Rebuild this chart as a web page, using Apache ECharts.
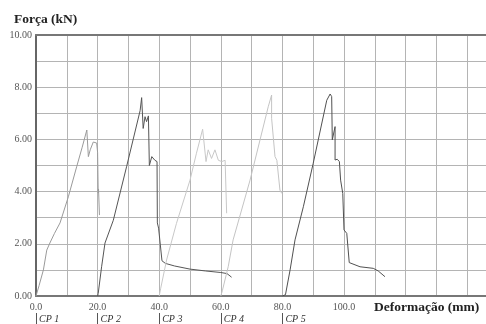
<!DOCTYPE html>
<html>
<head>
<meta charset="utf-8">
<script src="https://cdn.jsdelivr.net/npm/echarts@6/dist/echarts.min.js"></script>
<style>html,body{margin:0;padding:0;background:#fff;}#c{width:486px;height:324px;}</style>
</head>
<body>
<div id="c"></div>
<script>
var cp1X = [0, 1.0, 2.4, 3.5, 4.5, 6.0, 7.8, 10.5, 13.2, 15.0, 16.5, 17.0, 17.6, 18.6, 19.7, 20.0, 20.2, 20.3, 20.6];
var cp1Y = [0, 0.4, 1.0, 1.76, 2.03, 2.4, 2.8, 3.8, 4.95, 5.7, 6.36, 5.34, 5.6, 5.9, 5.86, 5.5, 3.95, 4.1, 3.1];
var cp2X = [20, 20.2, 21.3, 22.4, 25.1, 29.4, 33.8, 34.3, 34.8, 35.4, 35.9, 36.5, 36.8, 37.6, 38.6, 39.3, 39.4, 39.8, 40.9, 42, 45, 50, 55, 60, 62, 63.5];
var cp2Y = [0, 0.1, 1.12, 2.03, 2.9, 4.95, 7.1, 7.6, 6.42, 6.87, 6.68, 6.9, 5.0, 5.34, 5.2, 5.15, 2.8, 2.6, 1.35, 1.25, 1.15, 1.03, 0.96, 0.9, 0.86, 0.72];
var cp3X = [40, 40.5, 42.4, 45.6, 50, 52.1, 54.1, 55.2, 55.9, 57, 58.1, 59.2, 60.3, 61.4, 61.9];
var cp3Y = [0, 0.3, 1.38, 2.78, 4.44, 5.47, 6.39, 5.15, 5.6, 5.27, 5.6, 5.2, 5.15, 5.2, 3.17];
var cp4X = [60, 60.5, 62.4, 64, 69.5, 75.4, 76.5, 76.5, 77.0, 77.6, 78.2, 79.2, 79.8];
var cp4Y = [0, 0.2, 1.12, 2.15, 4.44, 7.25, 7.7, 6.81, 6.81, 5.34, 5.2, 4.06, 3.93];
var cp5X = [80, 81, 82.5, 84.1, 86.8, 90, 94.4, 95.5, 96, 96.2, 97.1, 97.1, 97.8, 98.5, 98.9, 99.6, 100, 100.9, 101.7, 105.2, 109.5, 111.1, 113.3];
var cp5Y = [0, 0.05, 1.0, 2.15, 3.42, 5.08, 7.5, 7.74, 7.64, 5.98, 6.49, 5.21, 5.24, 5.15, 4.44, 3.93, 2.53, 2.4, 1.28, 1.12, 1.06, 0.96, 0.74];
var cpNames = ['CP 1', 'CP 2', 'CP 3', 'CP 4', 'CP 5'];
var cpStarts = [0, 20, 40, 60, 80];
var xTickLabels = [0, 20, 40, 60, 80, 100];
var yTickLabels = [0, 2, 4, 6, 8, 10];

function pairs(xs, ys) { return xs.map(function (x, i) { return [x, ys[i]]; }); }
var serif = '"Liberation Serif", "DejaVu Serif", serif';
var chart = echarts.init(document.getElementById('c'), null, { renderer: 'canvas' });
function line(name, xs, ys, color) {
  return { name: name, type: 'line', data: pairs(xs, ys), showSymbol: false, symbol: 'none',
    lineStyle: { color: color, width: 1 }, itemStyle: { color: color }, animation: false, z: 5 };
}
chart.setOption({
  animation: false,
  backgroundColor: '#fff',
  title: { text: 'Força (kN)', left: 9, top: 8,
    textStyle: { fontFamily: serif, fontWeight: 'bold', fontSize: 13.5, color: '#222' } },
  grid: { left: 36, top: 35, right: -12, bottom: 28, containLabel: false, outerBoundsMode: 'none' },
  xAxis: [
    { type: 'value', min: 0, max: 150, interval: 10, position: 'bottom',
      axisLine: { show: true, lineStyle: { color: '#777', width: 2 } },
      axisTick: { show: false },
      splitLine: { show: true, lineStyle: { color: '#b4b4b4', width: 1 } },
      axisLabel: { margin: 6, fontFamily: serif, fontSize: 10, color: '#555',
        formatter: function (v) { return xTickLabels.indexOf(v) >= 0 ? v.toFixed(1) : ''; } } },
    { type: 'value', min: 0, max: 150, interval: 10, position: 'top',
      axisLine: { show: true, onZero: false, lineStyle: { color: '#777', width: 2 } },
      axisTick: { show: false }, axisLabel: { show: false }, splitLine: { show: false } },
    { type: 'value', min: 0, max: 150, position: 'bottom', offset: 17,
      axisLine: { show: false },
      axisTick: { show: true, length: 11, customValues: cpStarts, lineStyle: { color: '#555', width: 1 } },
      splitLine: { show: false },
      axisLabel: { margin: 1, align: 'left', padding: [0, 0, 0, 3], customValues: cpStarts,
        fontFamily: serif, fontStyle: 'italic', fontSize: 10, color: '#333',
        formatter: function (v) { var i = cpStarts.indexOf(v); return i >= 0 ? cpNames[i] : ''; } } }
  ],
  yAxis: {
    type: 'value', min: 0, max: 10, interval: 1,
    axisLine: { show: true, lineStyle: { color: '#666', width: 2 } },
    axisTick: { show: false },
    splitLine: { show: true, lineStyle: { color: '#b4b4b4', width: 1 } },
    axisLabel: { margin: 4, fontFamily: serif, fontSize: 10, color: '#555',
      formatter: function (v) { return yTickLabels.indexOf(v) >= 0 ? v.toFixed(2) : ''; } }
  },
  graphic: [
    { type: 'text', left: 374, top: 301,
      style: { text: 'Deformação (mm)', font: 'bold 13.5px ' + serif, fill: '#222' } }
  ],
  series: [
    line('CP 1', cp1X, cp1Y, '#9a9a9a'),
    line('CP 2', cp2X, cp2Y, '#555555'),
    line('CP 3', cp3X, cp3Y, '#c8c8c8'),
    line('CP 4', cp4X, cp4Y, '#c4c4c4'),
    line('CP 5', cp5X, cp5Y, '#505050')
  ]
});
</script>
</body>
</html>
